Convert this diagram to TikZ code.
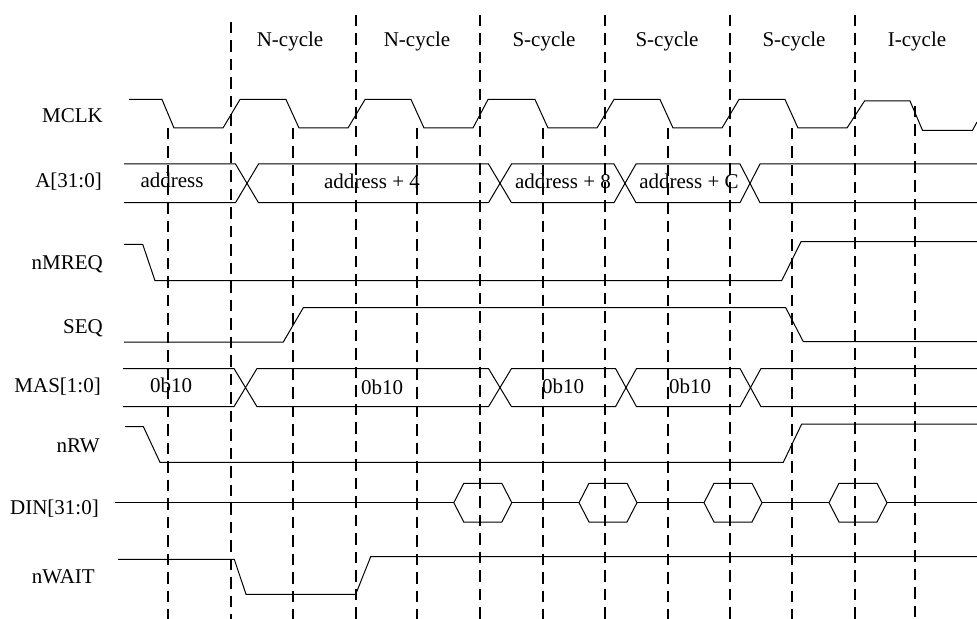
\documentclass[tikz,border=0pt]{standalone}
\usepackage{fontspec}
\setmainfont{Liberation Serif}
\begin{document}
\begin{tikzpicture}[x=1bp,y=-1bp,
  sig/.style={line width=1bp, line join=miter},
  sigb/.style={line width=1.5bp, line join=miter},
  busl/.style={line width=1bp, line join=miter},
  gridline/.style={line width=2bp, dash pattern=on 11.5bp off 7bp},
  lbl/.style={anchor=base east, inner sep=0pt, font=\fontsize{21bp}{25bp}\selectfont},
  txt/.style={anchor=base, inner sep=0pt, font=\fontsize{21bp}{25bp}\selectfont}]
\useasboundingbox (0,0) rectangle (977,619);

% dashed cycle boundaries
\draw[gridline] (231,22) -- (231,619);
\foreach \x in {356,480,605,730,855} \draw[gridline] (\x,15) -- (\x,619);
\foreach \x in {168,293,417,543,668,792} \draw[gridline] (\x,128) -- (\x,619);
\draw[gridline] (915,106) -- (915,619);

% cycle labels
\node[txt] (c1) at (290,47) {N-cycle};
\node[txt] (c2) at (417,47) {N-cycle};
\node[txt] (c3) at (544,47) {S-cycle};
\node[txt] (c4) at (667,47) {S-cycle};
\node[txt] (c5) at (794,47) {S-cycle};
\node[txt] (c6) at (917,47) {I-cycle};

% signal names
\node[lbl] (lmclk) at (103,123) {MCLK};
\node[lbl] (la) at (102,188) {A[31:0]};
\node[lbl] (lmreq) at (103,270) {nMREQ};
\node[lbl] (lseq) at (103,333) {SEQ};
\node[lbl] (lmas) at (101,392) {MAS[1:0]};
\node[lbl] (lrw) at (100,452) {nRW};
\node[lbl] (ldin) at (99,514) {DIN[31:0]};
\node[lbl] (lwait) at (95,583) {nWAIT};

% MCLK
\draw[sig] (129,99.5) -- (162,99.5) -- (174,128) -- (223,128) -- (240,99.5)
  -- (286,99.5) -- (299,128) -- (348,128) -- (365,99.5)
  -- (411,99.5) -- (424,128) -- (473,128) -- (488,99.5)
  -- (535,99.5) -- (548,128) -- (597,128) -- (614,99.5)
  -- (660,99.5) -- (673,128) -- (722,128) -- (739,99.5)
  -- (785,99.5) -- (798,128) -- (847,128) -- (864.5,101)
  -- (910,101) -- (922.5,130.3) -- (972.5,130.3) -- (977,122);

% A[31:0]
\draw[busl] (124,164) -- (235.5,164) -- (247,183.35) -- (235.5,202.7) -- (124,202.7);
\draw[busl] (247,183.35) -- (258.5,164) -- (488.5,164) -- (500,183.35) -- (488.5,202.7) -- (258.5,202.7) -- cycle;
\draw[busl] (500,183.35) -- (511.5,164) -- (614,164) -- (625,183.35) -- (614,202.7) -- (511.5,202.7) -- cycle;
\draw[busl] (625,183.35) -- (636,164) -- (740,164) -- (750,183.35) -- (740,202.7) -- (636,202.7) -- cycle;
\draw[busl] (977,164) -- (760,164) -- (750,183.35) -- (760,202.7) -- (977,202.7);
\draw[sigb] (124,202.7) -- (235.5,202.7) (258.5,202.7) -- (488.5,202.7) (760,202.7) -- (977,202.7);
\node[txt] (a1) at (172,188) {address};
\node[txt] (a2) at (372,189) {address + 4};
\node[txt] (a3) at (563,189) {address + 8};
\node[txt] (a4) at (689,189) {address + C};

% nMREQ
\draw[sig] (124,244.3) -- (142.7,244.3) -- (155,280.7) -- (781.7,280.7) -- (801,241.7) -- (977,241.7);
\draw[sigb] (801,241.7) -- (977,241.7);

% SEQ
\draw[sig] (124,342) -- (283.3,342) -- (303.3,307.7) -- (785.7,307.7) -- (803.3,341.7) -- (977,341.7);
\draw[sigb] (803.3,341.7) -- (977,341.7);

% MAS[1:0]
\draw[busl] (123,368.5) -- (234,368.5) -- (245.5,387.6) -- (234,406.7) -- (123,406.7);
\draw[busl] (245.5,387.6) -- (257,368.5) -- (488.5,368.5) -- (500,387.6) -- (488.5,406.7) -- (257,406.7) -- cycle;
\draw[busl] (500,387.6) -- (511.5,368.5) -- (615.5,368.5) -- (626,387.6) -- (615.5,406.7) -- (511.5,406.7) -- cycle;
\draw[busl] (626,387.6) -- (636.5,368.5) -- (740,368.5) -- (750.5,387.6) -- (740,406.7) -- (636.5,406.7) -- cycle;
\draw[busl] (977,368.5) -- (761,368.5) -- (750.5,387.6) -- (761,406.7) -- (977,406.7);
\draw[sigb] (123,406.7) -- (234,406.7) (257,406.7) -- (488.5,406.7) (257,368.5) -- (488.5,368.5) (761,406.7) -- (977,406.7);
\node[txt] (m1) at (171,392) {0b10};
\node[txt] (m2) at (382,394) {0b10};
\node[txt] (m3) at (563,393) {0b10};
\node[txt] (m4) at (690,393) {0b10};

% nRW
\draw[sig] (125,426.5) -- (143.3,426.5) -- (160,462.3) -- (783.3,462.3) -- (801.7,424) -- (977,424);

% DIN[31:0]
\draw[sigb] (115,502.7) -- (453.8,502.7);
\foreach \c in {482.8,608,733,858}{
  \draw[sig] (\c-29,502.7) -- (\c-19,483.3) -- (\c+19,483.3) -- (\c+29,502.7)
    -- (\c+19,522) -- (\c-19,522) -- cycle;
}
\draw[sigb] (511.8,502.7) -- (579,502.7);
\draw[sigb] (637,502.7) -- (704,502.7);
\draw[sigb] (762,502.7) -- (829,502.7);
\draw[sigb] (887,502.7) -- (977,502.7);

% nWAIT
\draw[sig] (118,559.3) -- (234.3,559.3) -- (246,594.3) -- (355.7,594.3) -- (370.7,556.7) -- (977,556.7);
\end{tikzpicture}
\end{document}
